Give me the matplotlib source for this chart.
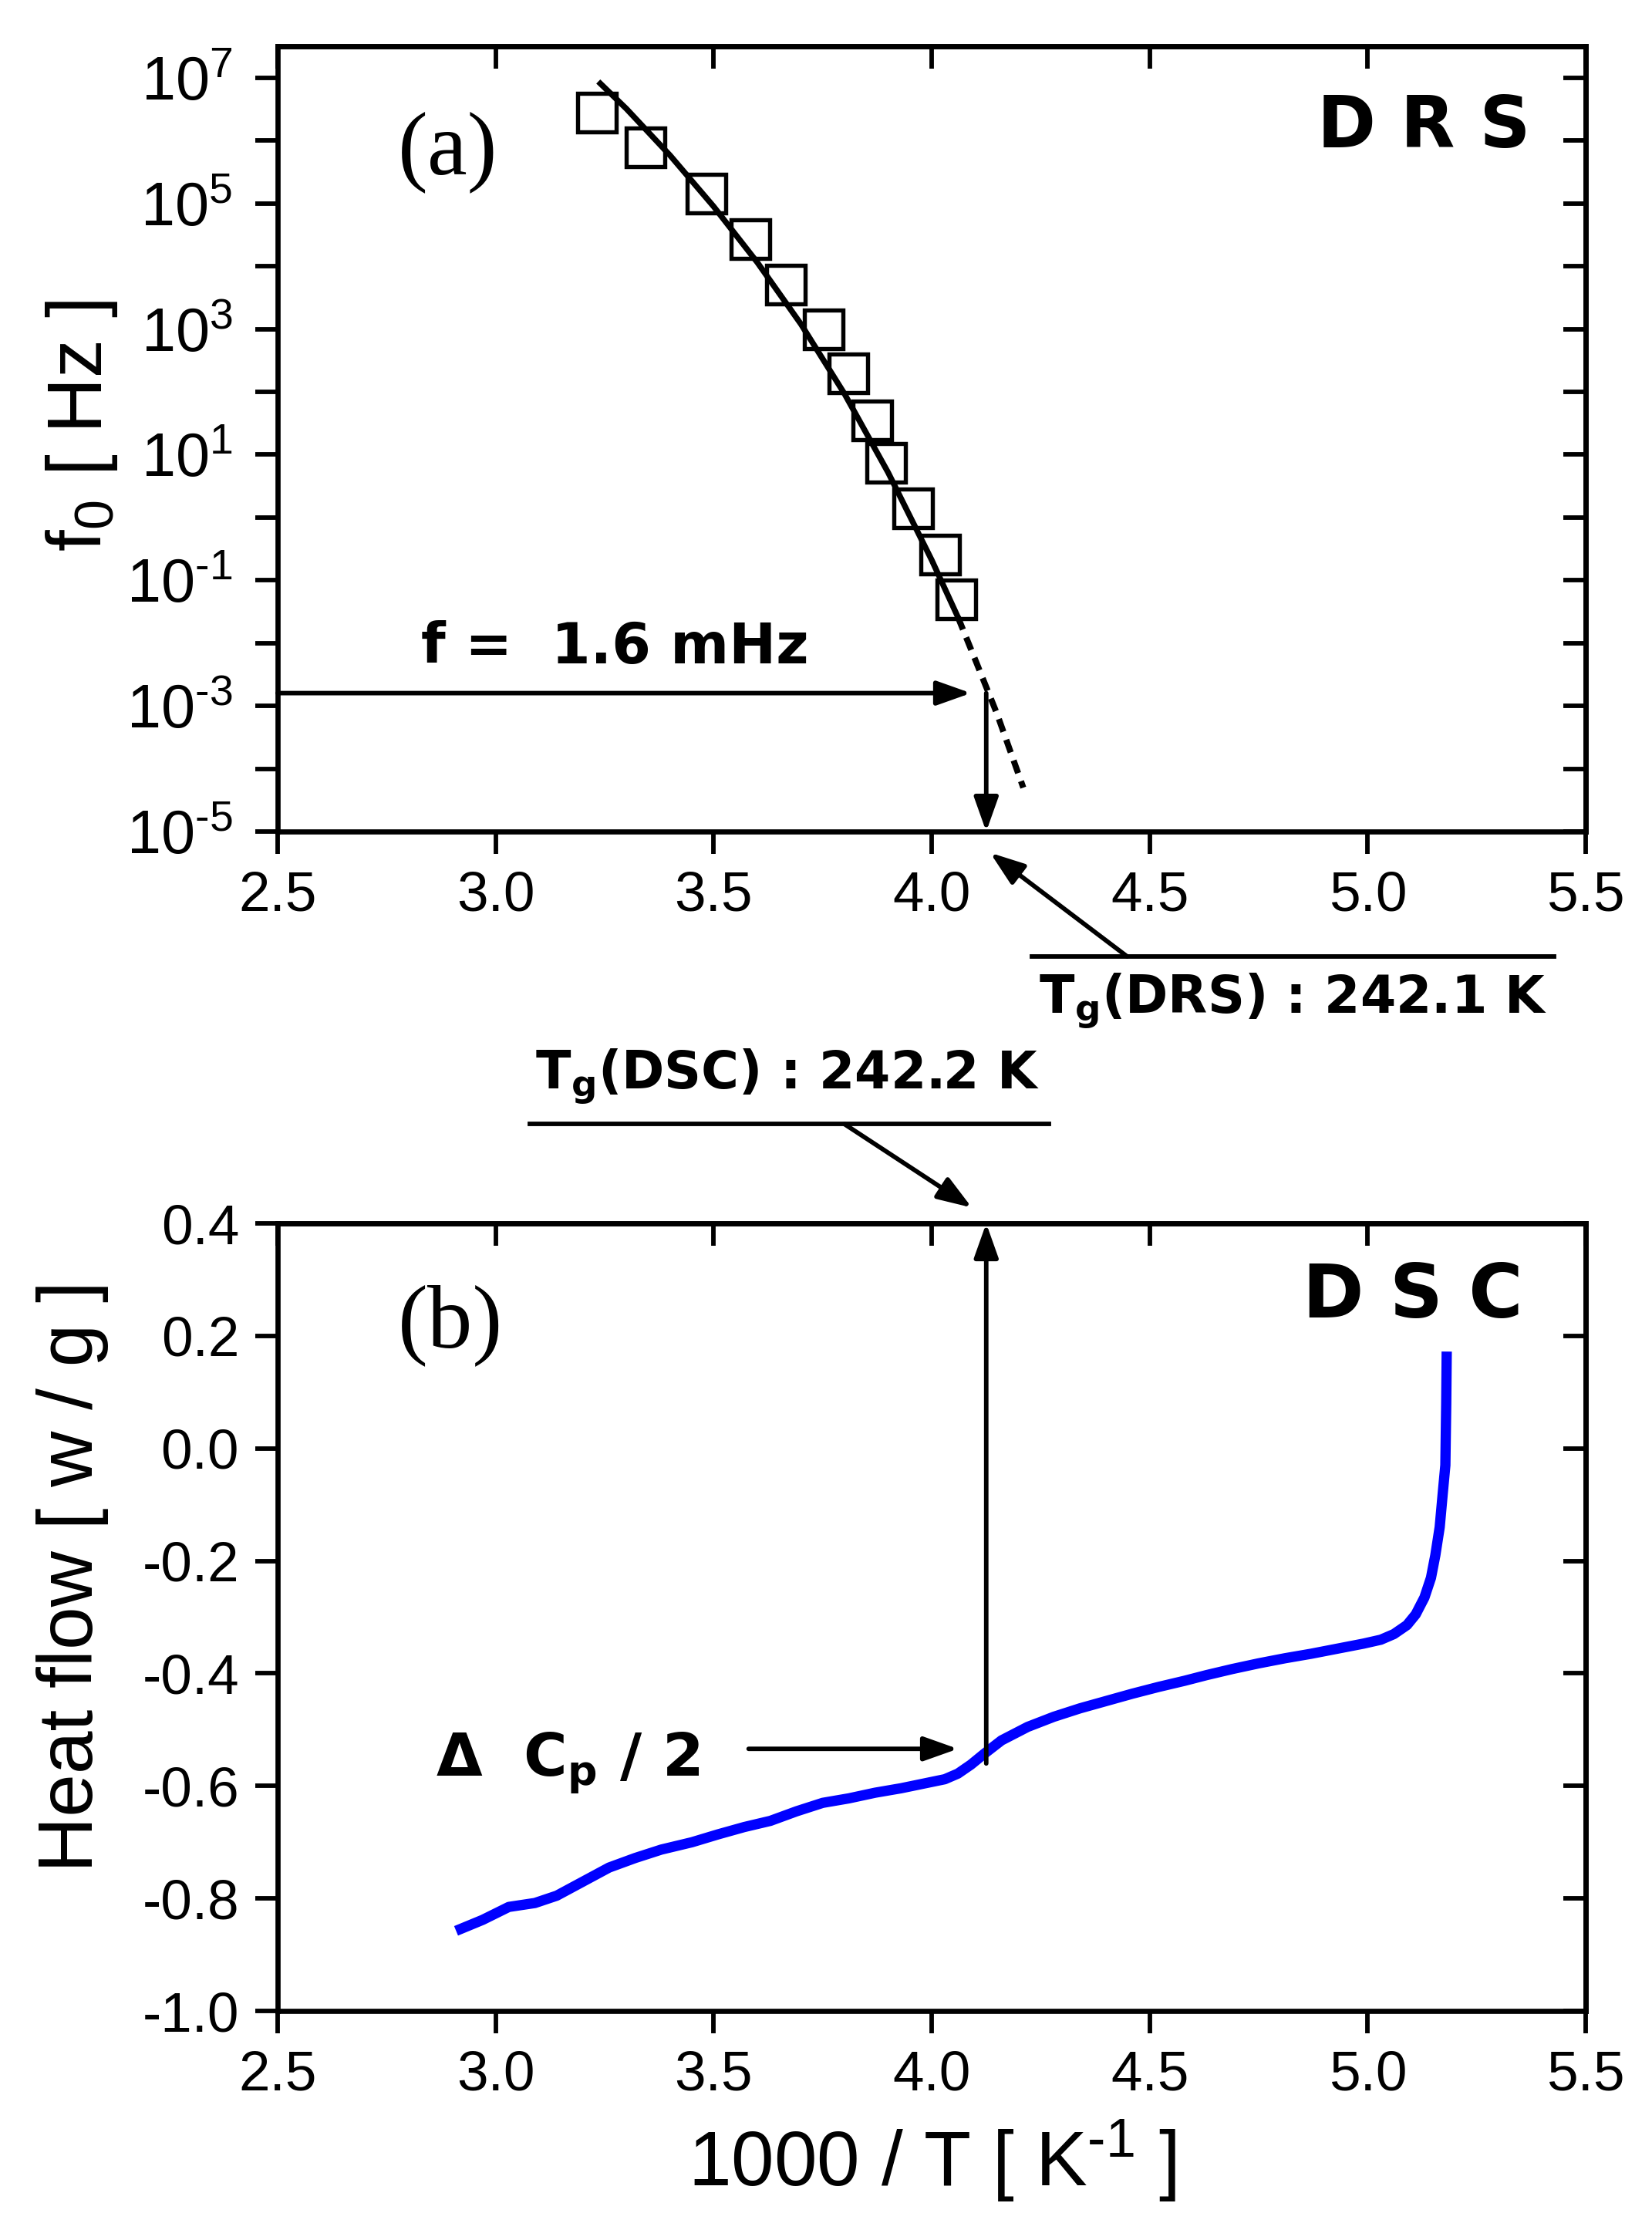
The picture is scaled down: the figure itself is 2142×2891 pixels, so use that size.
import math
import matplotlib
matplotlib.use('Agg')
import matplotlib.pyplot as plt
import matplotlib.ticker as ticker

plt.rcParams.update({'font.family': 'Liberation Sans',
                     'mathtext.fontset': 'custom',
                     'mathtext.rm': 'Liberation Sans',
                     'mathtext.it': 'Liberation Sans:italic',
                     'mathtext.bf': 'Liberation Sans:bold',
                     'axes.unicode_minus': False,
                     'axes.linewidth': 1.6})

# (a) DRS: relaxation frequency vs 1000/T
drs_x = [3.233, 3.343, 3.483, 3.584, 3.665, 3.752, 3.809, 3.864, 3.895, 3.957, 4.019, 4.056]
drs_f = [2.8e6, 7.8e5, 1.45e5, 2.7e4, 5.1e3, 1.0e3, 195, 35, 7.4, 1.4, 0.26, 0.05]
# VFT fit (solid part and dashed extrapolation)
fit_x = [3.24, 3.30, 3.40, 3.50, 3.60, 3.70, 3.80, 3.90, 4.00, 4.06]
fit_f = [8.1e6, 3.2e6, 5.8e5, 8.9e4, 1.15e4, 1.2e3, 93, 5.2, 0.21, 0.026]
ext_x = [4.06, 4.10, 4.15, 4.21]
ext_f = [0.026, 5.4e-3, 7.4e-4, 5.0e-5]

# (b) DSC heat flow vs 1000/T
dsc_x = [2.92, 2.97, 3.03, 3.09, 3.14, 3.20, 3.26, 3.32, 3.38, 3.45, 3.51, 3.57, 3.63,
         3.69, 3.75, 3.81, 3.87, 3.93, 3.98, 4.03, 4.06, 4.09, 4.12, 4.16, 4.22, 4.28,
         4.34, 4.40, 4.46, 4.52, 4.58, 4.63, 4.69, 4.75, 4.81, 4.87, 4.93, 4.99, 5.03,
         5.06, 5.09, 5.11, 5.13, 5.145, 5.155, 5.165, 5.172, 5.178, 5.18, 5.181]
dsc_y = [-0.854, -0.838, -0.815, -0.808, -0.795, -0.770, -0.745, -0.728, -0.713, -0.700,
         -0.686, -0.673, -0.662, -0.645, -0.630, -0.622, -0.612, -0.604, -0.596, -0.588,
         -0.578, -0.562, -0.543, -0.519, -0.495, -0.477, -0.462, -0.449, -0.436, -0.424,
         -0.413, -0.403, -0.392, -0.382, -0.373, -0.365, -0.356, -0.347, -0.340, -0.330,
         -0.314, -0.295, -0.265, -0.230, -0.19, -0.14, -0.08, -0.03, 0.08, 0.163]

f_probe = 1.6e-3
x_tg = 4.125
xticks = [2.5, 3.0, 3.5, 4.0, 4.5, 5.0, 5.5]
decades = [10.0 ** k for k in range(-5, 8)]
hf_ticks = [-1.0, -0.8, -0.6, -0.4, -0.2, 0.0, 0.2, 0.4]

bold = dict(family='DejaVu Sans', fontweight='bold')
arrow = dict(arrowstyle='-|>,head_length=0.45,head_width=0.16', lw=1.4, color='k',
             mutation_scale=20, shrinkA=0, shrinkB=0)
HY = '\u2010'  # plain hyphen for exponents, as in the original


def style_axes(ax, yticks):
    ax.set_xlim(2.5, 5.5)
    ax.set_xticks(xticks)
    ax.set_yticks(yticks)
    ax.minorticks_off()
    ax.tick_params(direction='out', length=7, width=1.4, labelsize=17.5, pad=5)
    top = ax.secondary_xaxis('top')
    top.set_xticks(xticks)
    top.tick_params(direction='in', length=7, width=1.4, labeltop=False)
    right = ax.secondary_yaxis('right')
    right.set_yticks(yticks)
    right.minorticks_off()
    right.tick_params(direction='in', length=7, width=1.4, labelright=False)
    for s in ax.spines.values():
        s.set_linewidth(1.6)


def decade_label(v, pos):
    k = round(math.log10(v))
    if k % 2 == 0:
        return ''
    e = str(k).replace('-', HY)
    return r'10$^{\mathdefault{%s}}$' % e


fig = plt.figure(figsize=(2142 / 300, 2891 / 300), dpi=300)

# ---- panel (a)
ax1 = fig.add_axes([0.1681, 0.6271, 0.7918, 0.3521])
ax1.set_yscale('log')
ax1.set_ylim(1e-5, 10 ** 7.5)
style_axes(ax1, decades)
ax1.yaxis.set_major_formatter(ticker.FuncFormatter(decade_label))
ax1.tick_params(axis='y', labelsize=19, pad=7)
ax1.plot(fit_x, fit_f, color='k', lw=1.8)
ax1.plot(ext_x, ext_f, color='k', lw=1.9, linestyle=(0, (2.2, 1.4)))
ax1.plot(drs_x, drs_f, linestyle='none', marker='s', ms=12, mfc='none', mec='k', mew=1.3)
ax1.annotate('', xy=(4.09, f_probe), xytext=(2.5, f_probe), arrowprops=arrow)
ax1.annotate('', xy=(x_tg, 1e-5), xytext=(x_tg, f_probe), arrowprops=arrow)
ax1.text(0.258, 0.234, 'f =  1.6 mHz', transform=ax1.transAxes, ha='center', va='center',
         fontsize=17.5, **bold)
ax1.text(0.13, 0.865, '(a)', transform=ax1.transAxes, ha='center', va='center',
         fontsize=28, family='Liberation Serif')
ax1.text(0.958, 0.897, 'D R S', transform=ax1.transAxes, ha='right', va='center',
         fontsize=22, **bold)
ax1.set_ylabel(r'f$_{\mathdefault{0}}$ [ Hz ]', fontsize=24)
ax1.yaxis.set_label_coords(-0.121, 0.517)

# Tg(DRS) annotation below the axis
blend1 = ax1.get_xaxis_transform()
ax1.plot([4.23, 5.427], [-0.159, -0.159], color='k', lw=1.4, transform=blend1, clip_on=False)
ax1.annotate('', xy=(4.134, -0.027), xycoords=blend1, xytext=(4.448, -0.159),
             textcoords=blend1, arrowprops=arrow, annotation_clip=False)
ax1.text(4.245, -0.215, r'T$_{\mathdefault{g}}$(DRS) : 242.1 K', transform=blend1,
         ha='left', va='center', fontsize=16, **bold)

# ---- panel (b)
ax2 = fig.add_axes([0.1681, 0.0982, 0.7918, 0.3532])
ax2.set_ylim(-1.0, 0.4)
style_axes(ax2, hf_ticks)
ax2.yaxis.set_major_formatter(ticker.FormatStrFormatter('%.1f'))
ax2.plot(dsc_x, dsc_y, color='#0000FF', lw=3.2)
ax2.annotate('', xy=(4.06, -0.534), xytext=(3.58, -0.534), arrowprops=arrow)
ax2.annotate('', xy=(x_tg, 0.4), xytext=(x_tg, -0.56), arrowprops=arrow)
ax2.text(0.121, 0.315, r'$\mathdefault{\Delta}$  C$_{\mathdefault{p}}$ / 2', transform=ax2.transAxes,
         ha='left', va='center', fontsize=18.5, **bold)
ax2.text(0.132, 0.871, '(b)', transform=ax2.transAxes, ha='center', va='center',
         fontsize=28, family='Liberation Serif')
ax2.text(0.952, 0.906, 'D S C', transform=ax2.transAxes, ha='right', va='center',
         fontsize=23, **bold)
ax2.set_ylabel('Heat flow [ w / g ]', fontsize=24)
ax2.yaxis.set_label_coords(-0.129, 0.552)
ax2.set_xlabel(r'1000 / T [ K$^{\mathdefault{%s1}}$ ]' % HY, fontsize=24)
ax2.xaxis.set_label_coords(0.5, -0.135)

# Tg(DSC) annotation above the axis
blend2 = ax2.get_xaxis_transform()
ax2.plot([3.078, 4.269], [1.126, 1.126], color='k', lw=1.4, transform=blend2, clip_on=False)
ax2.annotate('', xy=(4.092, 1.02), xycoords=blend2, xytext=(3.80, 1.126),
             textcoords=blend2, arrowprops=arrow, annotation_clip=False)
ax2.text(3.09, 1.187, r'T$_{\mathdefault{g}}$(DSC) : 242.2 K', transform=blend2,
         ha='left', va='center', fontsize=16, **bold)

fig.savefig('out.png', dpi=300)
